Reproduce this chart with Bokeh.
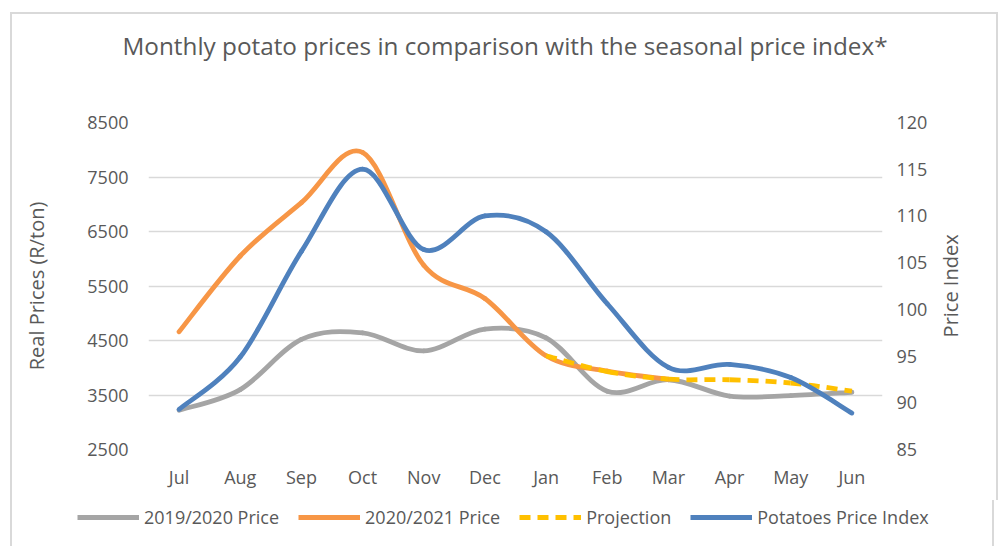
import math
from bokeh.plotting import figure
from bokeh.models import (Range1d, LinearAxis, FixedTicker, ColumnDataSource,
                          Legend, LegendItem, Title)
from bokeh.embed import file_html
from bokeh.resources import INLINE

# ---------------- data ----------------
months = ["Jul", "Aug", "Sep", "Oct", "Nov", "Dec", "Jan", "Feb", "Mar", "Apr", "May", "Jun"]
price_2019_2020 = [3220, 3600, 4520, 4640, 4310, 4710, 4550, 3570, 3780, 3480, 3490, 3550]
price_2020_2021 = [4660, 6050, 7030, 7950, 5880, 5270, 4220, 3940, 3790]          # Jul .. Mar
projection = [None, None, None, None, None, None, 4220, 3930, 3790, 3780, 3720, 3570]  # Jan .. Jun
price_index = [89.3, 94.9, 106.2, 115.0, 106.4, 110.0, 108.3, 100.6, 93.8, 94.1, 92.7, 88.9]
left_ticks = [2500, 3500, 4500, 5500, 6500, 7500, 8500]
right_ticks = [85, 90, 95, 100, 105, 110, 115, 120]
series_labels = ["2019/2020 Price", "2020/2021 Price", "Projection", "Potatoes Price Index"]
series_colors = ["#A5A5A5", "#F79646", "#FFC000", "#4F81BD"]
series_dash = ["solid", "solid", "11 7", "solid"]

title_text = "Monthly potato prices in comparison with the seasonal price index*"
right_title = "Price Index"

FONT = "Open Sans"
TXT = "#595959"
LW = 4.8

# ---------------- main figure ----------------
p = figure(frame_width=734, frame_height=327, output_backend="svg", toolbar_location=None,
           x_range=Range1d(-0.5, 11.5), y_range=Range1d(2500, 8500),
           min_border_left=136, min_border_right=114, min_border_top=108, min_border_bottom=51)
p.extra_y_ranges = {"idx": Range1d(85, 120)}
p.outline_line_color = None
p.background_fill_color = "white"
p.border_fill_color = "white"
p.styles = {"margin-left": "10px", "margin-top": "12px",
            "border-left": "2px solid #d9d9d9", "border-top": "2px solid #d9d9d9",
            "border-right": "2px solid #d9d9d9"}

# title (a small spacer keeps it well above the plot area)
p.add_layout(Title(text=" ", text_font_size="10px", standoff=43), "above")
p.add_layout(Title(text=title_text, align="left", offset=-26, standoff=10,
                   text_font=FONT, text_font_size="24.3px", text_font_style="normal",
                   text_color=TXT), "above")

# axes
p.xaxis.ticker = FixedTicker(ticks=list(range(len(months))))
p.xaxis.major_label_overrides = {i: m for i, m in enumerate(months)}
p.yaxis.ticker = FixedTicker(ticks=left_ticks)
p.yaxis.axis_label = "Real Prices (R/ton)"

ax_r = LinearAxis(y_range_name="idx", ticker=FixedTicker(ticks=right_ticks))
p.add_layout(ax_r, "right")
# right-hand axis title, written bottom-to-top like the reference
ax_lab = LinearAxis(y_range_name="idx", ticker=FixedTicker(ticks=[97.0]),
                    major_label_overrides={97.0: right_title})
p.add_layout(ax_lab, "right")

for ax in [p.xaxis[0], p.yaxis[0], ax_r, ax_lab]:
    ax.axis_line_color = None
    ax.major_tick_line_color = None
    ax.minor_tick_line_color = None
    ax.major_label_text_font = FONT
    ax.major_label_text_font_size = "18px"
    ax.major_label_text_color = TXT
    ax.axis_label_text_font = FONT
    ax.axis_label_text_font_size = "20px"
    ax.axis_label_text_font_style = "normal"
    ax.axis_label_text_color = TXT

p.xaxis.major_label_standoff = 9
p.yaxis[0].major_label_standoff = 14
p.yaxis[0].axis_label_standoff = 34
ax_r.major_label_standoff = 8
ax_lab.major_tick_out = 0
ax_lab.major_tick_in = 0
ax_lab.major_label_standoff = 20
ax_lab.major_label_text_font_size = "20px"
ax_lab.major_label_orientation = math.pi / 2

p.xgrid.grid_line_color = None
p.ygrid.grid_line_color = "#d9d9d9"
p.ygrid.grid_line_width = 1.5


# ---------------- smooth curves (bezier through the data points) ----------------
def smooth_source(xs, ys):
    pts = [(x, y) for x, y in zip(xs, ys) if y is not None]
    d = dict(x0=[], y0=[], x1=[], y1=[], cx0=[], cy0=[], cx1=[], cy1=[])
    n = len(pts)
    for i in range(n - 1):
        pa = pts[i - 1] if i > 0 else pts[i]
        p0 = pts[i]
        p1 = pts[i + 1]
        pb = pts[i + 2] if i + 2 < n else pts[i + 1]
        d["x0"].append(p0[0]); d["y0"].append(p0[1])
        d["x1"].append(p1[0]); d["y1"].append(p1[1])
        d["cx0"].append(p0[0] + (p1[0] - pa[0]) / 6.0)
        d["cy0"].append(p0[1] + (p1[1] - pa[1]) / 6.0)
        d["cx1"].append(p1[0] - (pb[0] - p0[0]) / 6.0)
        d["cy1"].append(p1[1] - (pb[1] - p0[1]) / 6.0)
    return ColumnDataSource(d)


xs = list(range(len(months)))
sources = [smooth_source(xs, price_2019_2020),
           smooth_source(xs[:len(price_2020_2021)], price_2020_2021),
           smooth_source(xs, projection),
           smooth_source(xs, price_index)]
for k, src in enumerate(sources):
    kw = dict(y_range_name="idx") if k == 3 else {}
    p.bezier("x0", "y0", "x1", "y1", "cx0", "cy0", "cx1", "cy1", source=src,
             line_color=series_colors[k], line_width=LW, line_dash=series_dash[k],
             line_cap="butt" if k == 2 else "round", **kw)

# ---------------- legend strip (below the chart, separate root) ----------------
pl = figure(width=984, height=46, output_backend="svg", toolbar_location=None,
            x_range=Range1d(0, 1), y_range=Range1d(0, 1), min_border=0)
pl.axis.visible = False
pl.grid.visible = False
pl.outline_line_color = None
pl.background_fill_color = "white"
pl.border_fill_color = "white"
pl.styles = {"margin-left": "10px",
             "border-left": "2px solid #d9d9d9", "border-right": "2px solid #d9d9d9"}

nan = float("nan")
items = []
for k, lab in enumerate(series_labels):
    # key swatch only: the NaN points draw nothing on the strip itself
    r = pl.line(x=[0, 1], y=[nan, nan], line_color=series_colors[k], line_width=LW,
                line_dash=series_dash[k])
    items.append(LegendItem(label=lab, renderers=[r]))

legend = Legend(items=items, orientation="horizontal", location=(65, 17))
legend.glyph_width = 62
legend.glyph_height = 20
legend.label_height = 20
legend.label_standoff = 5
legend.spacing = 19
legend.padding = 0
legend.margin = 0
legend.border_line_color = None
legend.background_fill_alpha = 0
legend.label_text_font = FONT
legend.label_text_font_size = "18px"
legend.label_text_color = TXT
pl.add_layout(legend, "center")

open("out.html", "w").write(file_html([p, pl], INLINE))
